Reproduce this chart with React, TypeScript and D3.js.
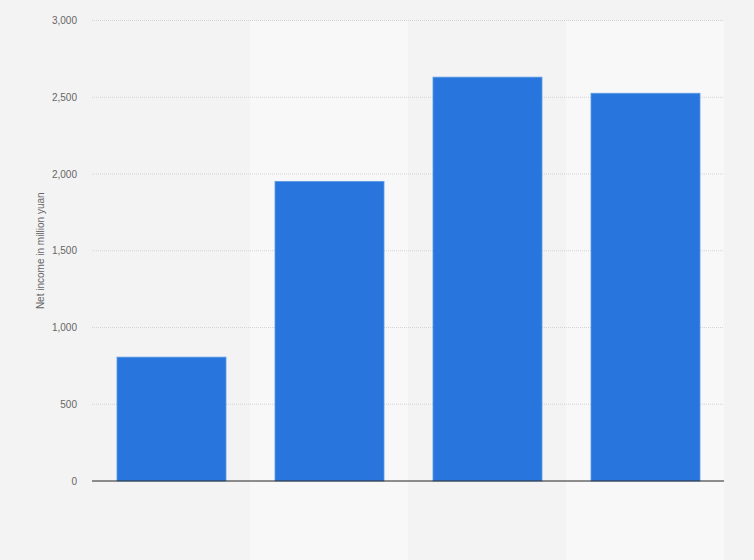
import React, { useEffect, useRef } from 'react';
import * as d3 from 'd3';

// Net income per year (labels are hidden on the x axis in the source chart)
const categories = ['2016', '2017', '2018', '2019'];
const netIncome = [807, 1952, 2631, 2526];
const yTicks = [0, 500, 1000, 1500, 2000, 2500, 3000];

const width = 754;
const height = 560;
const margin = { top: 20.5, right: 30, bottom: 79, left: 92 };

const App: React.FC = () => {
  const svgRef = useRef<SVGSVGElement>(null);

  useEffect(() => {
    if (!svgRef.current) return;
    const svg = d3.select(svgRef.current);
    svg.selectAll('*').remove();

    const innerWidth = width - margin.left - margin.right;
    const innerHeight = height - margin.top - margin.bottom;

    svg.append('rect').attr('width', width).attr('height', height).attr('fill', '#f3f3f3');

    const x = d3.scaleBand().domain(categories).range([0, innerWidth]).paddingInner(0).paddingOuter(0);
    const y = d3.scaleLinear().domain([0, 3000]).range([innerHeight, 0]);

    const g = svg.append('g').attr('transform', `translate(${margin.left},${margin.top})`);

    // alternating column bands
    g.selectAll('rect.band')
      .data(categories.filter((_, i) => i % 2 === 1))
      .enter()
      .append('rect')
      .attr('class', 'band')
      .attr('x', (d) => x(d)!)
      .attr('y', 0)
      .attr('width', x.bandwidth())
      .attr('height', height - margin.top)
      .attr('fill', '#f8f8f8');

    // grid lines
    g.selectAll('line.grid')
      .data(yTicks.filter((t) => t > 0))
      .enter()
      .append('line')
      .attr('x1', 0)
      .attr('x2', innerWidth)
      .attr('y1', (d) => y(d))
      .attr('y2', (d) => y(d))
      .attr('stroke', '#d4d4d4')
      .attr('stroke-width', 1)
      .attr('stroke-dasharray', '1,1');

    // bars
    const inner = x.bandwidth() * 0.69;
    g.selectAll('rect.bar')
      .data(netIncome)
      .enter()
      .append('rect')
      .attr('class', 'bar')
      .attr('x', (_, i) => x(categories[i])! + (x.bandwidth() - inner) / 2 + 0.5)
      .attr('y', (d) => y(d))
      .attr('width', inner)
      .attr('height', (d) => innerHeight - y(d))
      .attr('fill', '#2876dd')
      .attr('stroke', '#5e9be6')
      .attr('stroke-width', 0.8);

    // baseline
    g.append('line')
      .attr('x1', 0)
      .attr('x2', innerWidth)
      .attr('y1', innerHeight)
      .attr('y2', innerHeight)
      .attr('stroke', '#222')
      .attr('stroke-width', 1);

    // y tick labels
    g.selectAll('text.tick')
      .data(yTicks)
      .enter()
      .append('text')
      .attr('x', -15)
      .attr('y', (d) => y(d))
      .attr('dy', '0.35em')
      .attr('text-anchor', 'end')
      .attr('font-size', '10px')
      .attr('font-family', '"Liberation Sans", Arial, sans-serif')
      .attr('fill', '#666')
      .text((d) => d3.format(',')(d));

    // y axis label
    g.append('text')
      .attr('transform', 'rotate(-90)')
      .attr('x', -innerHeight / 2)
      .attr('y', -margin.left + 44)
      .attr('text-anchor', 'middle')
      .attr('font-size', '10px')
      .attr('font-family', '"Liberation Sans", Arial, sans-serif')
      .attr('fill', '#666')
      .text('Net income in million yuan');
  }, []);

  return (
    <svg
      ref={svgRef}
      width={width}
      height={height}
      style={{ position: 'absolute', left: 0, top: 0, display: 'block' }}
    />
  );
};

export default App;
